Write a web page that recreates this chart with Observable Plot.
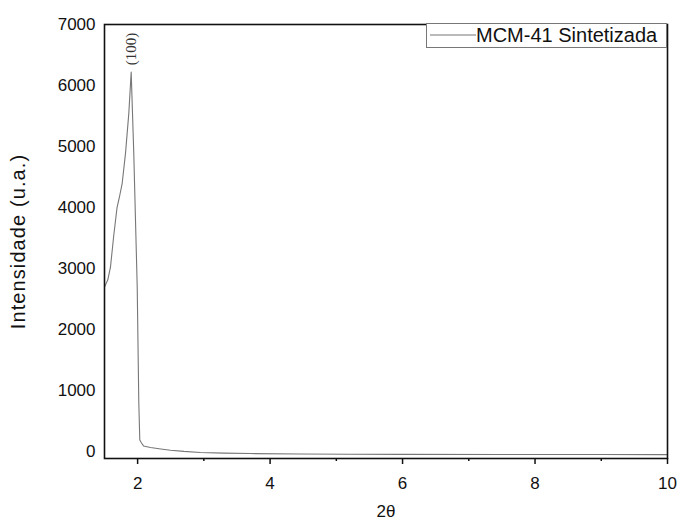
<!DOCTYPE html>
<html>
<head>
<meta charset="utf-8">
<script src="https://cdn.jsdelivr.net/npm/d3@7"></script>
<script src="https://cdn.jsdelivr.net/npm/@observablehq/plot@0.6"></script>
<style>
  html, body { margin: 0; padding: 0; background: #fff; }
  #chart { width: 677px; height: 523px; }
</style>
</head>
<body>
<div id="chart"></div>
<script>
// 2θ (degrees) and intensity (a.u.)
const twoTheta = [1.50, 1.55, 1.59, 1.64, 1.69, 1.73, 1.767, 1.817, 1.867, 1.903, 1.942, 1.994, 2.018, 2.033, 2.059, 2.089, 2.194, 2.35, 2.496, 2.70, 2.949, 3.30, 3.704, 4.459, 5.20, 5.969, 7.478, 8.988, 10.0];
const intensity = [2700, 2820, 3026, 3550, 4007, 4200, 4400, 4890, 5545, 6220, 4890, 2700, 800, 196, 147, 100, 75, 50, 30, 10, -8, -18, -25, -32, -36, -38, -40, -41, -42];
const xTicks = [2, 4, 6, 8, 10];
const xMinorTicks = [3, 5, 7, 9];
const yTicks = [0, 1000, 2000, 3000, 4000, 5000, 6000, 7000];
const xTitle = "2θ";
const yTitle = "Intensidade (u.a.)";
const seriesName = "MCM-41 Sintetizada";
const peakLabel = "(100)";

const data = twoTheta.map((x, i) => ({x, y: intensity[i]}));
const peak = data.reduce((a, b) => (b.y > a.y ? b : a));

const W = 677, H = 523;
const chart = Plot.plot({
  width: W,
  height: H,
  marginLeft: 104,
  marginRight: 10,
  marginTop: 24,
  marginBottom: 65,
  style: {fontFamily: "'Liberation Sans', Arial, sans-serif", fontSize: "17px", color: "#111", background: "#fff", overflow: "visible"},
  x: {domain: [1.5, 10]},
  y: {domain: [-106, 7000]},
  marks: [
    Plot.line(data, {x: "x", y: "y", stroke: "#777", strokeWidth: 1.1}),
    Plot.text([peak], {x: "x", y: "y", text: () => peakLabel, rotate: -90, textAnchor: "start", dy: -7, fontFamily: "'Liberation Serif', 'Times New Roman', serif", fontSize: 15, fill: "#333"}),
    Plot.axisX({ticks: xTicks, tickFormat: d3.format("d"), tickSize: 6, tickPadding: 12, strokeWidth: 1.5, label: xTitle, labelAnchor: "center", labelArrow: "none", labelOffset: 58, fontSize: 17}),
    Plot.axisX({ticks: xMinorTicks, tickSize: 3, strokeWidth: 1.5, text: null, label: null}),
    Plot.axisY({ticks: yTicks, tickFormat: d3.format("d"), tickSize: 0, tickPadding: 9, fontSize: 17, label: yTitle, labelAnchor: "center", labelArrow: "none", labelOffset: 94}),
    Plot.frame({stroke: "#111", strokeWidth: 1.6})
  ]
});
document.getElementById("chart").appendChild(chart);

// enlarge and spread the y-axis title like the reference
d3.select(chart).selectAll("text").filter(function() { return this.textContent === yTitle; })
  .attr("font-size", 20).attr("letter-spacing", "1.1px");

// legend box in the upper right, inside the frame
const svg = d3.select(chart);
const lg = svg.append("g");
lg.append("rect").attr("x", 426.5).attr("y", 23.5).attr("width", 240).attr("height", 24)
  .attr("fill", "#fff").attr("stroke", "#777").attr("stroke-width", 1);
lg.append("line").attr("x1", 430).attr("x2", 476).attr("y1", 35).attr("y2", 35)
  .attr("stroke", "#777").attr("stroke-width", 1.1);
lg.append("text").attr("x", 476).attr("y", 35).attr("dy", "0.35em").attr("text-anchor", "start")
  .attr("font-family", "'Liberation Sans', Arial, sans-serif").attr("font-size", 20).attr("fill", "#111")
  .text(seriesName);
</script>
</body>
</html>
